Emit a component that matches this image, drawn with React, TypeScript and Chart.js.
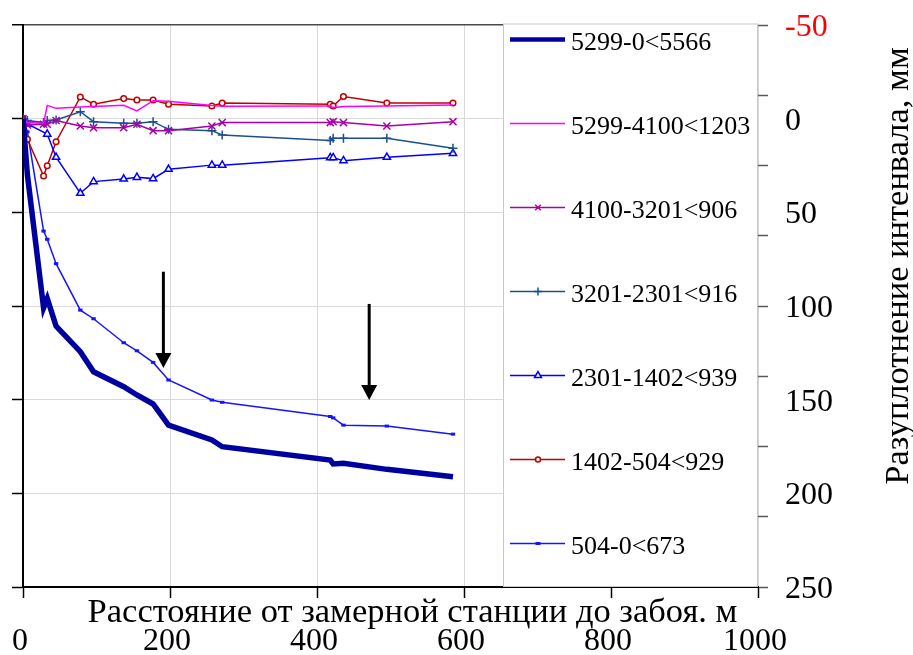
import React, { useEffect, useRef } from 'react';
import { Chart, registerables } from 'chart.js';
import { drawPoint } from 'chart.js/helpers';

Chart.register(...registerables);

// ---- data ----
const distances = [0, 6, 28, 33, 45, 78, 96, 137, 155, 177, 198, 257, 271, 418, 422, 436, 495, 585];
const s5299_0 = [0, 30, 101, 96, 110.7, 124.4, 135.1, 143.1, 147.5, 152.3, 163.6, 171.5, 175.1, 182.2, 184.3, 184.0, 187.2, 191.2];
const s5299_4100 = [0, 2, 2.5, -7.1, -5.5, -6.2, -6.5, -7.1, -4.1, -9.6, -9.3, -7.0, -6.6, -6.8, -5.9, -6.5, -6.8, -7.3];
const s4100_3201 = [0, 3.4, 3, 3, 1, 3.9, 4.8, 4.8, 3, 6.4, 6.4, 3.9, 2.1, 2.1, 1.6, 2.1, 3.9, 1.6];
const s3201_2301 = [0, 1, 2.1, 1, 0.7, -3.7, 1.6, 2.5, 2.5, 1.6, 5.7, 6.4, 8.7, 11.7, 10.5, 10.5, 10.5, 15.8];
const s2301_1402 = [0, 2.8, null, 8.2, 20.6, 39.8, 33.6, 32.2, 31.3, 32.0, 27, 24.8, 24.8, 20.8, 20.8, 22.4, 20.6, 18.5];
const s1402_504 = [0, 11, 30.6, 25.1, 12.3, -11.6, -7.7, -10.7, -10, -10, -7.7, -6.8, -8.3, -7.7, -6.8, -11.8, -8.4, -8.4];
const s504_0 = [0, 7, 60, 64.4, 77.4, 102.2, 106.8, 119.6, 123.9, 130.1, 139.5, 150.2, 151.4, 159.0, 159.7, 163.6, 164.1, 168.4];

const seriesLabels = [
  '5299-0<5566',
  '5299-4100<1203',
  '4100-3201<906',
  '3201-2301<916',
  '2301-1402<939',
  '1402-504<929',
  '504-0<673',
];

const xTickValues = [0, 200, 400, 600, 800, 1000];
const yTickValues = [-50, 0, 50, 100, 150, 200, 250];
const rightMarkTicks = [0, 1, 2, 3, 4, 5, 6, 7, 8];

// arrows (distance, top value, tip value)
const arrowX = [191, 471];
const arrowTopY = [81.7, 98.9];
const arrowTipY = [133.1, 150.2];

const xTitle = 'Расстояние от замерной станции до забоя. м';
const yTitle = 'Разуплотнение интенвала, мм';

const FONT = "'Liberation Serif', 'Times New Roman', serif";

const toPoints = (vals: (number | null)[]) =>
  distances.map((d, i) => ({ x: d, y: vals[i] }));

type LegendStyle = {
  color: string;
  width: number;
  style: any;
  radius: number;
  markerWidth: number;
};

const legendStyles: LegendStyle[] = [
  { color: '#0000A0', width: 4.5, style: false, radius: 0, markerWidth: 0 },
  { color: '#FF00FF', width: 1.5, style: false, radius: 0, markerWidth: 0 },
  { color: '#A800A8', width: 1.5, style: 'crossRot', radius: 4, markerWidth: 1.5 },
  { color: '#1A5090', width: 1.5, style: 'cross', radius: 4, markerWidth: 1.5 },
  { color: '#0000FF', width: 1.5, style: 'triangle', radius: 4, markerWidth: 1.5 },
  { color: '#C00000', width: 1.5, style: 'circle', radius: 2.5, markerWidth: 1.5 },
  { color: '#1414FF', width: 1.5, style: 'line', radius: 2.5, markerWidth: 3 },
];

const decorPlugin = {
  id: 'decor',
  afterDatasetsDraw(chart: any) {
    const { ctx, chartArea, scales } = chart;
    const xs = scales.x;
    const ys = scales.y;
    ctx.save();
    // arrows
    ctx.fillStyle = '#000';
    ctx.strokeStyle = '#000';
    ctx.lineWidth = 3;
    arrowX.forEach((xv, i) => {
      const px = xs.getPixelForValue(xv);
      const top = ys.getPixelForValue(arrowTopY[i]);
      const tip = ys.getPixelForValue(arrowTipY[i]);
      const headLen = 15;
      const headHalf = 8;
      ctx.beginPath();
      ctx.moveTo(px, top);
      ctx.lineTo(px, tip - headLen + 1);
      ctx.stroke();
      ctx.beginPath();
      ctx.moveTo(px - headHalf, tip - headLen);
      ctx.lineTo(px + headHalf, tip - headLen);
      ctx.lineTo(px, tip);
      ctx.closePath();
      ctx.fill();
    });

    // legend box
    const left = chartArea.right - 255;
    const top = chartArea.top - 1.5;
    const right = chartArea.right;
    const bottom = chartArea.bottom;
    ctx.fillStyle = '#FFFFFF';
    ctx.fillRect(left, top, right - left, bottom - top);
    ctx.strokeStyle = '#C8C8C8';
    ctx.lineWidth = 1;
    ctx.strokeRect(left + 0.5, top + 0.5, right - left - 1, bottom - top - 1);

    chart.data.datasets.forEach((ds: any, i: number) => {
      const st = legendStyles[i];
      const y = chartArea.top + 14.5 + i * 84;
      ctx.strokeStyle = st.color;
      ctx.lineWidth = st.width;
      ctx.beginPath();
      ctx.moveTo(left + 7, y);
      ctx.lineTo(left + 62, y);
      ctx.stroke();
      if (st.style) {
        ctx.fillStyle = '#FFFFFF';
        ctx.strokeStyle = st.color;
        ctx.lineWidth = st.markerWidth;
        drawPoint(ctx, { pointStyle: st.style, rotation: 0, radius: st.radius, borderWidth: st.markerWidth } as any, left + 35, y);
      }
      ctx.fillStyle = '#000';
      ctx.font = `26px ${FONT}`;
      ctx.textAlign = 'left';
      ctx.textBaseline = 'alphabetic';
      ctx.fillText(ds.label, left + 68, y + 10.5);
    });
    ctx.restore();
  },
  afterDraw(chart: any) {
    const { ctx, chartArea } = chart;
    ctx.save();
    ctx.fillStyle = '#000';
    // x title
    ctx.font = `34.5px ${FONT}`;
    ctx.textAlign = 'center';
    ctx.textBaseline = 'alphabetic';
    ctx.fillText(xTitle, (chartArea.left + chartArea.right) / 2 + 22, chartArea.bottom + 35);
    // right vertical title (reads bottom to top)
    ctx.translate(chart.width - 5, (chartArea.top + chartArea.bottom) / 2 - 40);
    ctx.rotate(-Math.PI / 2);
    ctx.font = `34.5px ${FONT}`;
    ctx.fillText(yTitle, 0, 0);
    ctx.restore();
  },
};

export default function App() {
  const ref = useRef<HTMLCanvasElement>(null);
  useEffect(() => {
    if (!ref.current) return;
    const mk = (i: number, vals: (number | null)[], extra: any) => ({
      label: seriesLabels[i],
      data: toPoints(vals),
      borderColor: legendStyles[i].color,
      backgroundColor: '#FFFFFF',
      borderWidth: legendStyles[i].width,
      pointBorderColor: legendStyles[i].color,
      pointBackgroundColor: '#FFFFFF',
      pointStyle: legendStyles[i].style || 'circle',
      pointRadius: legendStyles[i].style ? legendStyles[i].radius : 0,
      pointBorderWidth: legendStyles[i].markerWidth,
      tension: 0,
      spanGaps: true,
      ...extra,
    });
    const datasets = [
      mk(0, s5299_0, { borderWidth: 5.5 }),
      mk(1, s5299_4100, {}),
      mk(2, s4100_3201, { pointRadius: 5 }),
      mk(3, s3201_2301, { pointRadius: 4.5 }),
      mk(4, s2301_1402, { pointRadius: 4.2 }),
      mk(5, s1402_504, { pointRadius: 2.8 }),
      mk(6, s504_0, { pointRadius: 2.2 }),
    ];

    const chart = new Chart(ref.current, {
      type: 'line',
      data: { datasets },
      plugins: [decorPlugin],
      options: {
        animation: false,
        responsive: true,
        maintainAspectRatio: false,
        layout: { padding: { top: 25, left: 0, right: 0, bottom: 0 } },
        plugins: {
          legend: { display: false },
          tooltip: { enabled: false },
        },
        scales: {
          x: {
            type: 'linear',
            position: 'bottom',
            weight: 0,
            min: 0,
            max: 1000,
            afterBuildTicks: (s: any) => {
              s.ticks = xTickValues.map((v) => ({ value: v }));
            },
            afterFit: (s: any) => {
              s.height = 11;
            },
            ticks: { display: false, padding: 0 },
            grid: {
              color: '#D9D9D9',
              lineWidth: 1,
              tickLength: 11,
              tickColor: '#000',
              tickWidth: 1.5,
            },
            border: { display: true, color: '#000', width: 2 },
          },
          x2: {
            type: 'linear',
            position: 'bottom',
            weight: 1,
            min: 0,
            max: 1000,
            afterBuildTicks: (s: any) => {
              s.ticks = xTickValues.map((v) => ({ value: v }));
            },
            afterFit: (s: any) => {
              s.height = 57;
            },
            ticks: {
              autoSkip: false,
              maxRotation: 0,
              padding: 0,
              labelOffset: -3,
              color: '#000',
              font: { family: FONT, size: 32 },
              callback: (v: any) => String(v),
            },
            grid: {
              display: true,
              drawOnChartArea: false,
              drawTicks: true,
              tickLength: 24,
              tickColor: 'rgba(0,0,0,0)',
              color: 'rgba(0,0,0,0)',
            },
            border: { display: false },
          },
          y: {
            type: 'linear',
            position: 'left',
            reverse: true,
            min: -50,
            max: 250,
            afterBuildTicks: (s: any) => {
              s.ticks = yTickValues.map((v) => ({ value: v }));
            },
            afterFit: (s: any) => {
              s.width = 23;
            },
            ticks: { display: false, padding: 0 },
            grid: {
              color: (c: any) => (c.tick && c.tick.value === -50 ? '#4A4A4A' : '#D9D9D9'),
              lineWidth: (c: any) => (c.tick && c.tick.value === -50 ? 1.5 : 1),
              tickLength: 11,
              tickColor: '#000',
              tickWidth: 1.5,
            },
            border: { display: true, color: '#000', width: 2 },
          },
          yR: {
            type: 'linear',
            position: 'right',
            weight: 0,
            min: 0,
            max: 8,
            afterBuildTicks: (s: any) => {
              s.ticks = rightMarkTicks.map((v) => ({ value: v }));
            },
            afterFit: (s: any) => {
              s.width = 10;
            },
            ticks: { display: false, padding: 0 },
            grid: {
              drawOnChartArea: false,
              tickLength: 10,
              tickColor: '#595959',
              tickWidth: 1.5,
            },
            border: { display: false },
          },
          yL: {
            type: 'linear',
            position: 'right',
            weight: 1,
            reverse: true,
            min: -50,
            max: 250,
            afterBuildTicks: (s: any) => {
              s.ticks = yTickValues.map((v) => ({ value: v }));
            },
            afterFit: (s: any) => {
              s.width = 145;
            },
            ticks: {
              padding: 0,
              labelOffset: 2.5,
              font: { family: FONT, size: 32 },
              color: (c: any) => (c.tick && c.tick.value === -50 ? '#FF0000' : '#000'),
              callback: (v: any) => String(v),
            },
            grid: {
              display: true,
              drawOnChartArea: false,
              drawTicks: true,
              tickLength: 17,
              tickColor: 'rgba(0,0,0,0)',
              color: 'rgba(0,0,0,0)',
            },
            border: { display: false },
          },
        },
      } as any,
    });
    return () => chart.destroy();
  }, []);

  return (
    <div style={{ position: 'fixed', left: 0, top: 0, width: 913, height: 655, background: '#FFFFFF' }}>
      <canvas ref={ref} />
    </div>
  );
}
